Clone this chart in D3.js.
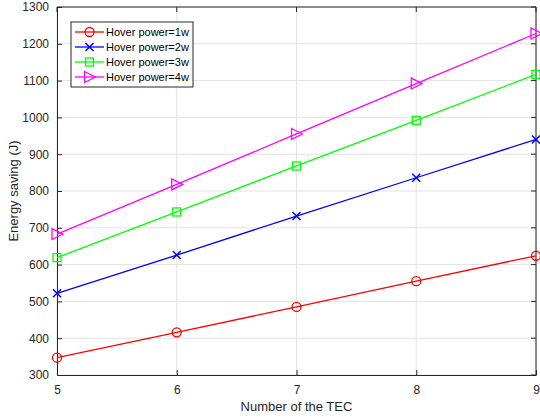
<!DOCTYPE html>
<html>
<head>
<meta charset="utf-8">
<script src="https://cdn.jsdelivr.net/npm/d3@7"></script>
<style>
  body { margin: 0; background: #fff; }
  text { font-family: "Liberation Sans", Arial, sans-serif; }
</style>
</head>
<body>
<div id="chart"></div>
<script>
// data
var tecCounts = [5, 6, 7, 8, 9];
var power1w = [347, 416, 485, 555, 624];
var power2w = [522, 626, 732, 836, 940];
var power3w = [619, 743, 868, 992, 1117];
var power4w = [683, 818, 955, 1092, 1228];
var seriesNames = ["Hover power=1w", "Hover power=2w", "Hover power=3w", "Hover power=4w"];
var yTicks = [300, 400, 500, 600, 700, 800, 900, 1000, 1100, 1200, 1300];

var svgWidth = 540;
var svgHeight = 417;
var margin = { top: 7, right: 4, bottom: 42, left: 57 };
var width = svgWidth - margin.left - margin.right;
var height = svgHeight - margin.top - margin.bottom;

var series = [
  { name: seriesNames[0], values: power1w, color: "#ff0000", marker: "circle" },
  { name: seriesNames[1], values: power2w, color: "#0000ff", marker: "x" },
  { name: seriesNames[2], values: power3w, color: "#00ff00", marker: "square" },
  { name: seriesNames[3], values: power4w, color: "#ff00ff", marker: "triangle" }
];

var svg = d3.select("#chart")
  .append("svg")
  .attr("width", svgWidth)
  .attr("height", svgHeight);

var g = svg.append("g")
  .attr("transform", "translate(" + margin.left + "," + margin.top + ")");

var x = d3.scaleLinear().domain([5, 9]).range([0, width]);
var y = d3.scaleLinear().domain([300, 1300]).range([height, 0]);

// grid
g.append("g").selectAll("line").data(tecCounts).enter().append("line")
  .attr("x1", d => x(d)).attr("x2", d => x(d))
  .attr("y1", 0).attr("y2", height)
  .attr("stroke", "#e3e3e3").attr("stroke-width", 1);
g.append("g").selectAll("line").data(yTicks).enter().append("line")
  .attr("x1", 0).attr("x2", width)
  .attr("y1", d => y(d)).attr("y2", d => y(d))
  .attr("stroke", "#e3e3e3").attr("stroke-width", 1);

// axes (ticks inside like matlab)
var xAxis = g.append("g")
  .attr("transform", "translate(0," + height + ")")
  .call(d3.axisBottom(x).tickValues(tecCounts).tickFormat(d3.format("d")).tickSizeInner(-5).tickSizeOuter(0).tickPadding(10));
var yAxis = g.append("g")
  .call(d3.axisLeft(y).tickValues(yTicks).tickFormat(d3.format("d")).tickSizeInner(-5).tickSizeOuter(0).tickPadding(8));
[xAxis, yAxis].forEach(function(a) {
  a.select(".domain").attr("stroke", "#262626");
  a.selectAll(".tick line").attr("stroke", "#262626");
  a.selectAll("text").attr("fill", "#262626").style("font-size", "12px");
});

// top / right box lines
g.append("line").attr("x1", 0).attr("x2", width).attr("y1", 0).attr("y2", 0).attr("stroke", "#262626");
g.append("line").attr("x1", width).attr("x2", width).attr("y1", 0).attr("y2", height).attr("stroke", "#262626");
g.append("g").selectAll("line").data(yTicks).enter().append("line")
  .attr("x1", width - 5).attr("x2", width)
  .attr("y1", d => y(d)).attr("y2", d => y(d)).attr("stroke", "#262626");
g.append("g").selectAll("line").data(tecCounts).enter().append("line")
  .attr("x1", d => x(d)).attr("x2", d => x(d))
  .attr("y1", 0).attr("y2", 5).attr("stroke", "#262626");

// marker helper
function drawMarker(sel, type, color) {
  if (type === "circle") {
    sel.append("circle").attr("r", 4.5).attr("fill", "none").attr("stroke", color).attr("stroke-width", 1.3);
  } else if (type === "x") {
    sel.append("path").attr("d", "M-4,-4L4,4M-4,4L4,-4").attr("stroke", color).attr("stroke-width", 1.5).attr("fill", "none");
  } else if (type === "square") {
    sel.append("rect").attr("x", -4).attr("y", -4).attr("width", 8).attr("height", 8)
      .attr("fill", "none").attr("stroke", color).attr("stroke-width", 1.3);
  } else {
    sel.append("path").attr("d", "M-5,-5.5L6,0L-5,5.5Z").attr("fill", "none").attr("stroke", color).attr("stroke-width", 1.3);
  }
}

var line = d3.line().x((d, i) => x(tecCounts[i])).y(d => y(d));

series.forEach(function(s) {
  g.append("path").datum(s.values)
    .attr("d", line).attr("fill", "none").attr("stroke", s.color).attr("stroke-width", 1.3);
  s.values.forEach(function(v, i) {
    var m = g.append("g").attr("transform", "translate(" + x(tecCounts[i]) + "," + y(v) + ")");
    drawMarker(m, s.marker, s.color);
  });
});

// axis labels
svg.append("text")
  .attr("x", margin.left + width / 2).attr("y", 411)
  .attr("text-anchor", "middle").style("font-size", "13px").attr("fill", "#262626")
  .text("Number of the TEC");
svg.append("text")
  .attr("transform", "translate(18," + (margin.top + height / 2) + ") rotate(-90)")
  .attr("text-anchor", "middle").style("font-size", "13px").attr("fill", "#262626")
  .text("Energy saving (J)");

// legend
var legend = svg.append("g").attr("transform", "translate(71,22)");
legend.append("rect").attr("width", 122).attr("height", 65)
  .attr("fill", "#fff").attr("stroke", "#262626").attr("stroke-width", 1);
series.forEach(function(s, i) {
  var row = legend.append("g").attr("transform", "translate(0," + (10 + i * 15) + ")");
  row.append("line").attr("x1", 4).attr("x2", 33).attr("y1", 0).attr("y2", 0)
    .attr("stroke", s.color).attr("stroke-width", 1.3);
  var m = row.append("g").attr("transform", "translate(18.5,0)");
  drawMarker(m, s.marker, s.color);
  row.append("text").attr("x", 35).attr("y", 4)
    .style("font-size", "11px").attr("fill", "#000").text(s.name);
});
</script>
</body>
</html>
